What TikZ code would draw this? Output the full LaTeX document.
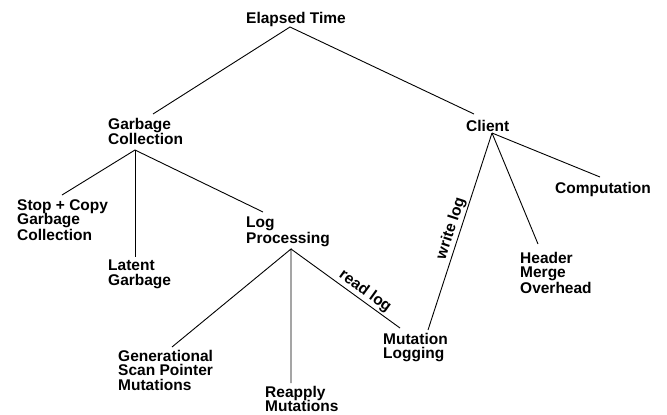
\documentclass[tikz,border=0pt]{standalone}
\usepackage{fontspec}
\setmainfont{Liberation Sans}
\begin{document}
\begin{tikzpicture}[x=1pt,y=-1pt,
  lbl/.style={anchor=north west,inner sep=0pt,align=left,
    font=\fontsize{15.5}{14.5}\selectfont\bfseries},
  edge/.style={line width=0.9pt},
  elbl/.style={sloped,above,inner sep=1.5pt,font=\fontsize{15.5}{14.5}\selectfont\bfseries}]
\useasboundingbox (0,0) rectangle (667,415);
% text nodes
\node[lbl] (et)   at (246,12)  {Elapsed Time};
\node[lbl] (gc)   at (108,118) {Garbage\\Collection};
\node[lbl] (cl)   at (466,120) {Client};
\node[lbl] (sc)   at (17,199)  {Stop + Copy\\Garbage\\Collection};
\node[lbl] (lg)   at (108,260) {Latent\\Garbage};
\node[lbl] (lp)   at (246,217) {Log\\Processing};
\node[lbl] (cp)   at (555,182) {Computation};
\node[lbl] (hm)   at (520,252) {Header\\Merge\\Overhead};
\node[lbl] (ml)   at (383,333) {Mutation\\Logging};
\node[lbl] (gs)   at (118,350) {Generational\\Scan Pointer\\Mutations};
\node[lbl] (rm)   at (265,386) {Reapply\\Mutations};
% connector ends
\coordinate (et-b) at (290,27);
\coordinate (gc-t) at (153,114);
\coordinate (cl-t) at (474,114);
\coordinate (gc-b) at (135,150);
\coordinate (sc-t) at (62,195);
\coordinate (lg-t) at (135,257);
\coordinate (lp-t) at (263,212);
\coordinate (cl-b) at (492,133);
\coordinate (cp-t) at (600,177);
\coordinate (hm-t) at (538,244);
\coordinate (ml-tr) at (428,330);
\coordinate (ml-tl) at (400,328);
\coordinate (lp-b) at (291,249);
\coordinate (gs-t) at (172,347);
\coordinate (rm-t) at (291,383);
% connectors
\draw[edge] (gc-t) -- (et-b) -- (cl-t);
\draw[edge] (sc-t) -- (gc-b) -- (lp-t);
\draw[edge] (gc-b) -- (lg-t);
\draw[edge] (cl-b) -- (cp-t);
\draw[edge] (cl-b) -- (hm-t);
\draw[edge] (ml-tr) -- node[elbl,pos=0.5] {write log} (cl-b);
\draw[edge] (gs-t) -- (lp-b) -- (rm-t);
\draw[edge] (lp-b) -- node[elbl,pos=0.63] {read log} (ml-tl);
\end{tikzpicture}
\end{document}
